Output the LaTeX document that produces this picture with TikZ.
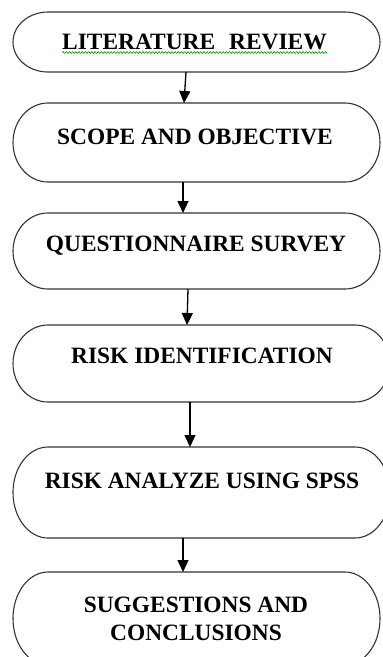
\documentclass[tikz,border=0pt]{standalone}
\usepackage{fontspec}
\setmainfont{Liberation Serif}
\usetikzlibrary{calc,arrows.meta,decorations.pathmorphing}
\begin{document}
\begin{tikzpicture}[x=1pt,y=-1pt,
  box/.style={draw=none, rectangle, inner sep=0pt, outer sep=0pt},
  lbl/.style={font=\fontsize{23.4}{28}\selectfont\bfseries, text=black, inner sep=0pt, anchor=base, align=center},
  flow/.style={line width=1.3pt, -{Triangle[length=12pt,width=11pt]}},
  outline/.style={line width=1.1pt, draw=black!80},
  squiggle/.style={draw=green!60!black, line width=0.6pt, decorate, decoration={snake, amplitude=0.9pt, segment length=3.2pt}}]
\useasboundingbox (0,0) rectangle (383,657);
% box frames (invisible anchors)
\node[box, minimum width=367pt, minimum height=60pt] (b1) at (196.5,42) {};
\node[box, minimum width=367pt, minimum height=79pt] (b2) at (196.5,142.5) {};
\node[box, minimum width=367pt, minimum height=76pt] (b3) at (196.5,251) {};
\node[box, minimum width=377pt, minimum height=77pt] (b4) at (201.5,363.5) {};
\node[box, minimum width=377pt, minimum height=91pt] (b5) at (201.5,492.5) {};
\node[box, minimum width=367pt, minimum height=93pt] (b6) at (196.5,618.5) {};
% outlines with elliptic ends
\foreach \b in {b1,b2,b3,b4,b5,b6}{
  \draw[outline] let \p1=(\b.north), \p2=(\b.south), \n1={abs(\y1-\y2)/2} in
    ([xshift=35pt]\b.north west) -- ([xshift=-35pt]\b.north east)
    arc[start angle=90, end angle=-90, x radius=35pt, y radius={\n1*1pt}]
    -- ([xshift=35pt]\b.south west)
    arc[start angle=270, end angle=90, x radius=35pt, y radius={\n1*1pt}] -- cycle;
}
% labels
\node[lbl] (t1) at (194.5,49.5) {LITERATURE\hspace{0.6em}REVIEW};
\node[lbl] (t2) at (195,144.5) {SCOPE AND OBJECTIVE};
\node[lbl] (t3) at (196,251) {QUESTIONNAIRE SURVEY};
\node[lbl] (t4) at (202,363) {RISK IDENTIFICATION};
\node[lbl] (t5) at (202,488) {RISK ANALYZE USING SPSS};
\node[lbl] (t6) at (196,640) {SUGGESTIONS AND\\CONCLUSIONS};
\draw[squiggle] ($(t1.base west)+(0,3)$) -- ($(t1.base east)+(0,3)$);
% connectors
\draw[flow] ([xshift=-10.5pt]b1.south) -- ([xshift=-12.5pt]b2.north);
\draw[flow] ([xshift=-13.5pt]b2.south) -- ([xshift=-13.5pt]b3.north);
\draw[flow] ([xshift=-8.5pt]b3.south) -- ([xshift=-14.5pt]b4.north);
\draw[flow] ([xshift=-11.5pt]b4.south) -- ([xshift=-11.5pt]b5.north);
\draw[flow] ([xshift=-18.5pt]b5.south) -- ([xshift=-13.5pt]b6.north);
\end{tikzpicture}
\end{document}
